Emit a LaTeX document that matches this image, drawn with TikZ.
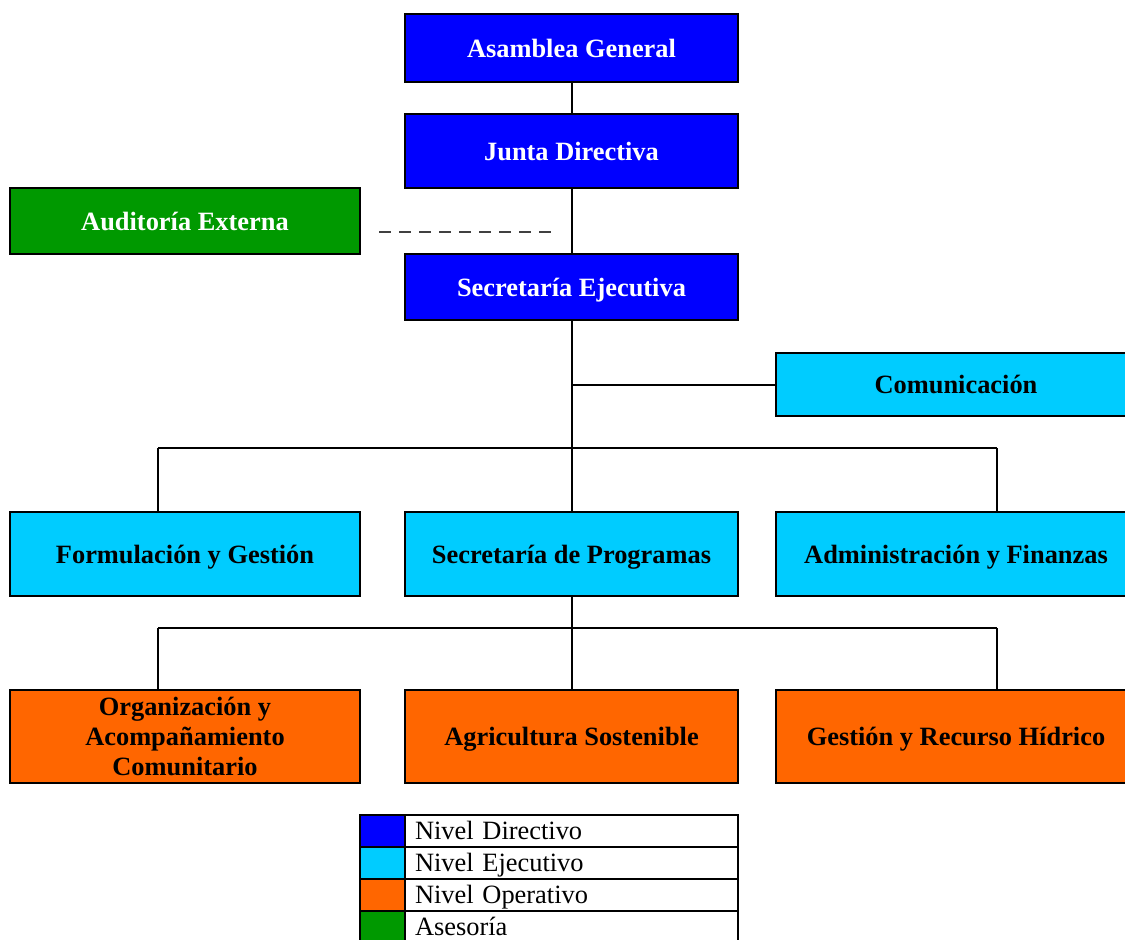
\documentclass[tikz,border=0pt]{standalone}
\usepackage{fontspec}
\setmainfont{Liberation Serif}
\usetikzlibrary{positioning}
\definecolor{dirblue}{HTML}{0000FF}
\definecolor{ejecyan}{HTML}{00CCFF}
\definecolor{opeorange}{HTML}{FF6600}
\definecolor{asegreen}{HTML}{009900}

\begin{document}
\begin{tikzpicture}[x=0.5pt, y=-0.5pt,
  box/.style={draw=black, line width=1pt, inner sep=0pt, align=center,
    text height=10pt, text depth=1pt,
    font=\fontsize{13.2}{15}\selectfont\bfseries},
  boxdir/.style={box, fill=dirblue, text=white, minimum width=166.5pt},
  boxase/.style={box, fill=asegreen, text=white, minimum width=175pt},
  boxeje/.style={box, fill=ejecyan, text=black},
  boxope/.style={box, fill=opeorange, text=black, minimum height=46.5pt},
  conn/.style={draw=black, line width=1pt},
  legcolor/.style={draw=black, line width=1pt, minimum width=22.5pt, minimum height=16pt,
    inner sep=0pt, outer sep=0pt},
  legtext/.style={draw=black, line width=1pt, minimum height=16pt, text width=156.5pt,
    text height=10.5pt, text depth=2pt, outer sep=0pt,
    inner xsep=5pt, inner ysep=0pt, align=left, font=\fontsize{13.2}{15}\selectfont}]
  \useasboundingbox (0,0) rectangle (1125,939);

  % nivel directivo
  \node[boxdir, minimum height=34pt] (asamblea) at (571.5,48) {Asamblea General};
  \node[boxdir, minimum height=37pt] (junta) at (571.5,151) {Junta Directiva};
  \node[boxdir, minimum height=33pt] (secej) at (571.5,287) {Secretaría Ejecutiva};

  % asesoria
  \node[boxase, minimum height=33pt] (audit) at (185,221) {Auditoría Externa};

  % nivel ejecutivo
  \node[boxeje, minimum width=180pt, minimum height=31.5pt] (comunic) at (956,384.5) {Comunicación};
  \node[boxeje, minimum width=175pt, minimum height=42pt] (formul) at (185,554) {Formulación y Gestión};
  \node[boxeje, minimum width=166.5pt, minimum height=42pt] (secprog) at (571.5,554) {Secretaría de Programas};
  \node[boxeje, minimum width=180pt, minimum height=42pt] (admin) at (956,554) {Administración y Finanzas};

  % nivel operativo
  \node[boxope, minimum width=175pt, text height=, text depth=] (org) at (185,736.5) {Organización y\\Acompañamiento\\Comunitario};
  \node[boxope, minimum width=166.5pt] (agri) at (571.5,736.5) {Agricultura Sostenible};
  \node[boxope, minimum width=180pt] (gestion) at (956,736.5) {Gestión y Recurso Hídrico};

  % connectors
  \draw[conn] (asamblea) -- (junta);
  \draw[conn] (junta) -- (secej);
  \draw[conn] (secej) -- (secprog);
  \draw[conn] (secej.south |- comunic.west) -- (comunic.west);

  \coordinate (busL) at (158,448);
  \coordinate (busR) at (997,448);
  \draw[conn] (busL) -- (busR);
  \draw[conn] (busL) -- (busL |- formul.north);
  \draw[conn] (busR) -- (busR |- admin.north);

  \coordinate (opeL) at (158,628);
  \coordinate (opeR) at (997,628);
  \draw[conn] (secprog) -- (agri);
  \draw[conn] (opeL) -- (opeR);
  \draw[conn] (opeL) -- (opeL |- org.north);
  \draw[conn] (opeR) -- (opeR |- gestion.north);

  % auditoria (dashed, loose)
  \coordinate (dashA) at (379,232);
  \coordinate (dashB) at (553,232);
  \draw[black!75, line width=0.6pt, dash pattern=on 6pt off 4pt] (dashA) -- (dashB);

  % legend
  \foreach \col/\txt [count=\i] in {dirblue/Nivel Directivo, ejecyan/Nivel Ejecutivo,
      opeorange/Nivel Operativo, asegreen/Asesoría} {
    \node[legcolor, fill=\col] (leg\i) at (382.5,799+32*\i) {};
    \node[legtext, right=0pt of leg\i] (legtxt\i) {\txt};
  }
\end{tikzpicture}
\end{document}
